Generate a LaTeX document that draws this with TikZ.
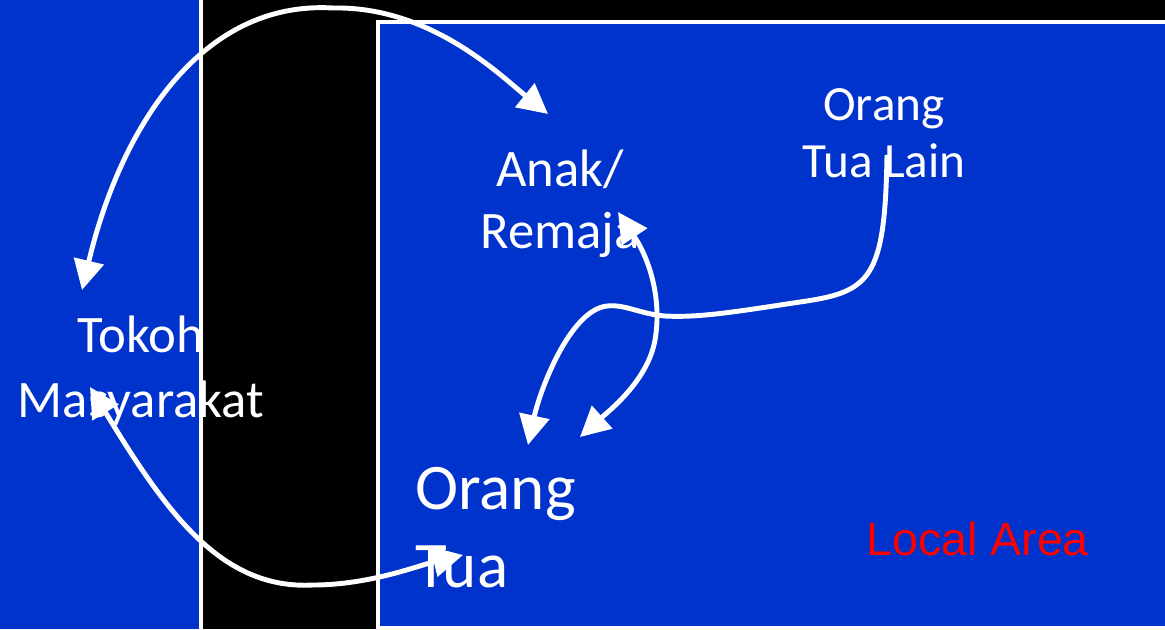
\documentclass[tikz,border=0pt]{standalone}
\usepackage{fontspec}
\setmainfont{Carlito}
\newfontfamily\areafont{Liberation Sans}
\usepackage{tikz}
\usetikzlibrary{arrows.meta,positioning}
\definecolor{panelblue}{RGB}{0,51,204}
\definecolor{areared}{RGB}{255,0,0}

\begin{document}
\begin{tikzpicture}[x=0.02cm, y=-0.02cm,
    actor/.style={text=white, inner sep=0pt, align=center, anchor=base},
    arrow/.style={-{Triangle[length=17pt,width=17pt]}, white, line width=2.8pt},
    twoway/.style={arrow, {Triangle[length=17pt,width=17pt]}-{Triangle[length=17pt,width=17pt]}}]

    \useasboundingbox (0,0) rectangle (1165,629);

    % Panels
    \fill[black] (0,0) rectangle (1165,629);
    \fill[panelblue] (0,0) rectangle (199,629);
    \draw[white, line width=2.8pt] (201,-5) -- (201,640);
    \filldraw[fill=panelblue, draw=white, line width=2.3pt] (378,22) rectangle (1180,628);

    % Actors (anchored on the last line)
    \node[actor, font=\fontsize{30}{37}\selectfont] (tokoh) at (141,417) {Tokoh\\Masyarakat};
    \node[actor, font=\fontsize{30}{35}\selectfont] (anak) at (560,248) {Anak/\\Remaja};
    \node[actor, font=\fontsize{28}{32}\selectfont] (lain) at (884,177) {Orang\\Tua Lain};
    \node[actor, font=\fontsize{37}{44}\selectfont, align=left, anchor=base west] (ortu) at (415,587) {Orang\\Tua};

    % Area label
    \node[text=areared, font=\areafont\fontsize{26.5}{30}\selectfont, inner sep=0pt, anchor=base west] (area) at (866,555) {Local Area};

    % Arrow ends
    \coordinate (tokoh top) at (82,290);
    \coordinate (tokoh low) at (90,387);
    \coordinate (anak top) at (548,114);
    \coordinate (anak low) at (618,212);
    \coordinate (lain stem) at (887,155);
    \coordinate (ortu left) at (463,555);
    \coordinate (ortu mid) at (528,445);
    \coordinate (ortu right) at (580,437);

    % Arrows
    \draw[twoway] (tokoh top) .. controls (120,130) and (200,0) .. (333,8)
        .. controls (430,6) and (500,75) .. (anak top);
    \draw[twoway] (tokoh low) .. controls (165,510) and (220,590) .. (313,585)
        .. controls (370,585) and (420,565) .. (ortu left);
    \draw[twoway] (anak low) .. controls (650,260) and (662,300) .. (655,340)
        .. controls (648,380) and (610,410) .. (ortu right);
    \draw[arrow] (lain stem) .. controls (885,280) and (870,292) .. (800,302)
        .. controls (740,311) and (700,318) .. (665,316)
        .. controls (640,314) and (625,304) .. (607,306)
        .. controls (570,310) and (540,390) .. (ortu mid);

\end{tikzpicture}
\end{document}
